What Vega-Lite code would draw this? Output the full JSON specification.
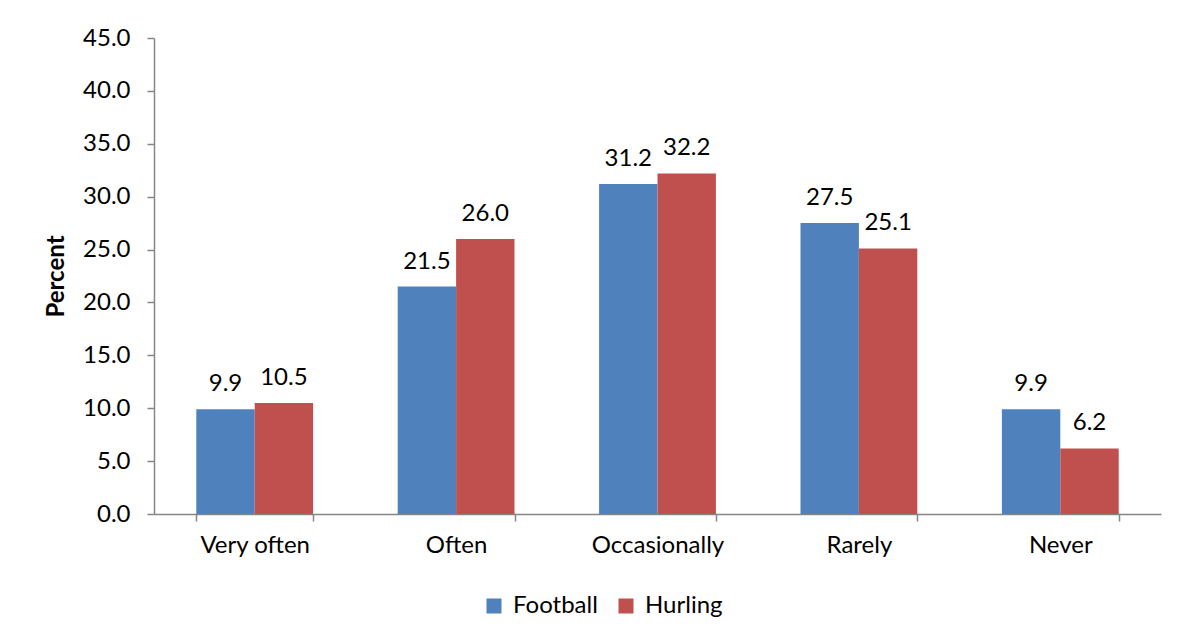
{
  "$schema": "https://vega.github.io/schema/vega-lite/v6.json",
  "width": 1007,
  "height": 476,
  "autosize": "none",
  "padding": {"left": 154, "top": 38, "right": 26, "bottom": 127},
  "background": "white",
  "config": {
    "view": {"stroke": null},
    "font": "Lato",
    "axis": {"labelFont": "Lato", "titleFont": "Lato", "labelColor": "#000000", "titleColor": "#000000", "domainColor": "#868686", "tickColor": "#868686", "domainWidth": 1.5, "tickWidth": 1.5},
    "legend": {"labelFont": "Lato"}
  },
  "data": {
    "values": [
      {"Frequency": "Very often", "Sport": "Football", "Percent": 9.9},
      {"Frequency": "Very often", "Sport": "Hurling", "Percent": 10.5},
      {"Frequency": "Often", "Sport": "Football", "Percent": 21.5},
      {"Frequency": "Often", "Sport": "Hurling", "Percent": 26.0},
      {"Frequency": "Occasionally", "Sport": "Football", "Percent": 31.2},
      {"Frequency": "Occasionally", "Sport": "Hurling", "Percent": 32.2},
      {"Frequency": "Rarely", "Sport": "Football", "Percent": 27.5},
      {"Frequency": "Rarely", "Sport": "Hurling", "Percent": 25.1},
      {"Frequency": "Never", "Sport": "Football", "Percent": 9.9},
      {"Frequency": "Never", "Sport": "Hurling", "Percent": 6.2}
    ]
  },
  "encoding": {
    "x": {
      "field": "Frequency", "type": "nominal",
      "sort": ["Very often", "Often", "Occasionally", "Rarely", "Never"],
      "scale": {"paddingInner": 0.42, "paddingOuter": 0.21},
      "axis": {"title": null, "labelAngle": 0, "labelFontSize": 24, "labelPadding": 12, "tickBand": "extent", "tickSize": 7}
    },
    "xOffset": {"field": "Sport", "type": "nominal", "sort": ["Football", "Hurling"], "scale": {"paddingInner": 0, "paddingOuter": 0}},
    "y": {
      "field": "Percent", "type": "quantitative",
      "scale": {"domain": [0, 45], "nice": false},
      "axis": {"title": "Percent", "titleFontSize": 24, "titleFontWeight": "bold", "titlePadding": 14, "format": ".1f", "values": [0, 5, 10, 15, 20, 25, 30, 35, 40, 45], "labelFontSize": 24, "labelPadding": 17, "tickSize": 7, "grid": false}
    }
  },
  "layer": [
    {
      "mark": {"type": "bar"},
      "encoding": {
        "color": {
          "field": "Sport", "type": "nominal", "sort": ["Football", "Hurling"],
          "scale": {"domain": ["Football", "Hurling"], "range": ["#4F81BD", "#C0504D"]},
          "legend": {"title": null, "orient": "none", "legendX": 328, "legendY": 556, "direction": "horizontal", "symbolType": "square", "symbolSize": 225, "symbolStrokeWidth": 0, "labelFontSize": 24, "columnPadding": 16, "labelOffset": 7}
        }
      }
    },
    {
      "mark": {"type": "text", "baseline": "alphabetic", "dy": -18, "fontSize": 24, "color": "#000000"},
      "encoding": {
        "text": {"field": "Percent", "type": "quantitative", "format": ".1f"}
      }
    }
  ]
}
